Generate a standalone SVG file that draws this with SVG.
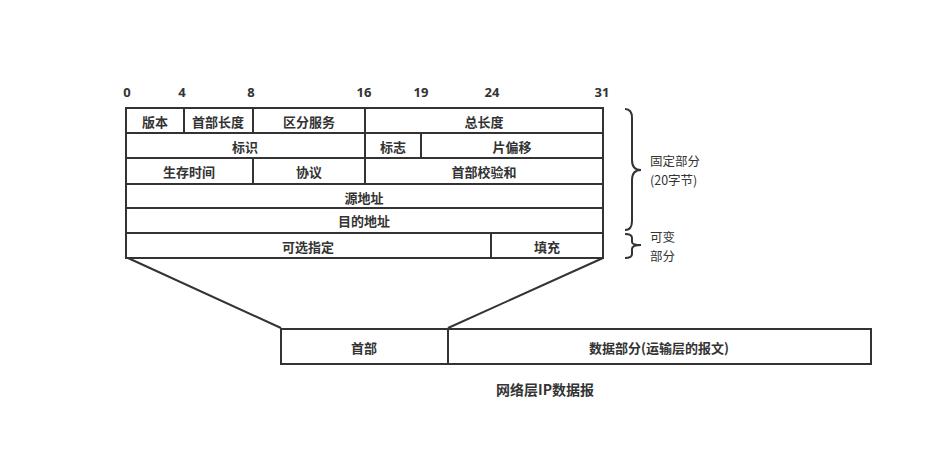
<svg xmlns="http://www.w3.org/2000/svg" width="933" height="470" viewBox="0 0 933 470">
<style>
.c{fill:#fff;stroke:#333;stroke-width:2}
.l{fill:none;stroke:#333;stroke-width:2}
.t{font-family:"Noto Sans CJK SC","Noto Sans",sans-serif;font-size:13px;font-weight:bold;fill:#333;text-anchor:middle;dominant-baseline:central}
.n{font-family:"Noto Sans","DejaVu Sans",sans-serif;font-size:13px;font-weight:bold;fill:#333;text-anchor:middle;dominant-baseline:central}
.s{font-family:"Noto Sans CJK SC","Noto Sans",sans-serif;font-size:12.5px;fill:#333}
</style>
<rect width="933" height="470" fill="#fff"/>
<g id="bits">
<text class="n" x="127" y="92">0</text>
<text class="n" x="182" y="92">4</text>
<text class="n" x="251" y="92">8</text>
<text class="n" x="364" y="92">16</text>
<text class="n" x="421" y="92">19</text>
<text class="n" x="492" y="92">24</text>
<text class="n" x="602" y="92">31</text>
</g>
<g id="connectors">
<line class="l" x1="128" y1="258" x2="281" y2="328"/>
<line class="l" x1="603" y1="258" x2="448" y2="328"/>
<path class="l" d="M625,109 Q632,109 632,118 L632,160 Q632,170 641,170 Q632,170 632,180 L632,221 Q632,230 625,230"/>
<path class="l" d="M625,234 Q632,234 632,238 L632,242 Q632,245 641,245 Q632,245 632,249 L632,254 Q632,258 625,258"/>
</g>
<g id="version"><rect class="c" x="126" y="108" width="58" height="25"/><text class="t" x="155" y="121">版本</text></g>
<g id="ihl"><rect class="c" x="184" y="108" width="69" height="25"/><text class="t" x="218" y="121">首部长度</text></g>
<g id="ds"><rect class="c" x="253" y="108" width="112" height="25"/><text class="t" x="309" y="121">区分服务</text></g>
<g id="totlen"><rect class="c" x="365" y="108" width="238" height="25"/><text class="t" x="484" y="121">总长度</text></g>
<g id="ident"><rect class="c" x="126" y="133" width="239" height="25"/><text class="t" x="245" y="146">标识</text></g>
<g id="flags"><rect class="c" x="365" y="133" width="56" height="25"/><text class="t" x="393" y="146">标志</text></g>
<g id="frag"><rect class="c" x="421" y="133" width="182" height="25"/><text class="t" x="512" y="146">片偏移</text></g>
<g id="ttl"><rect class="c" x="126" y="158" width="127" height="26"/><text class="t" x="189" y="171">生存时间</text></g>
<g id="proto"><rect class="c" x="253" y="158" width="112" height="26"/><text class="t" x="309" y="171">协议</text></g>
<g id="cksum"><rect class="c" x="365" y="158" width="238" height="26"/><text class="t" x="484" y="171">首部校验和</text></g>
<g id="src"><rect class="c" x="126" y="184" width="477" height="24"/><text class="t" x="364" y="197">源地址</text></g>
<g id="dst"><rect class="c" x="126" y="208" width="477" height="25"/><text class="t" x="364" y="220">目的地址</text></g>
<g id="opts"><rect class="c" x="126" y="233" width="365" height="25"/><text class="t" x="308" y="246">可选指定</text></g>
<g id="pad"><rect class="c" x="491" y="233" width="112" height="25"/><text class="t" x="547" y="246">填充</text></g>
<g id="fixed"><text class="s" x="650" y="166"><tspan x="650">固定部分</tspan><tspan x="650" dy="18.5">(20字节)</tspan></text></g>
<g id="var"><text class="s" x="650" y="242"><tspan x="650">可变</tspan><tspan x="650" dy="18.5">部分</tspan></text></g>
<g id="header"><rect class="c" x="281" y="329" width="167" height="35"/><text class="t" x="364" y="347">首部</text></g>
<g id="data"><rect class="c" x="448" y="329" width="423" height="35"/><text class="t" x="659" y="347">数据部分(运输层的报文)</text></g>
<g id="caption"><text class="t" x="545" y="389" style="font-size:14px">网络层IP数据报</text></g>
</svg>
